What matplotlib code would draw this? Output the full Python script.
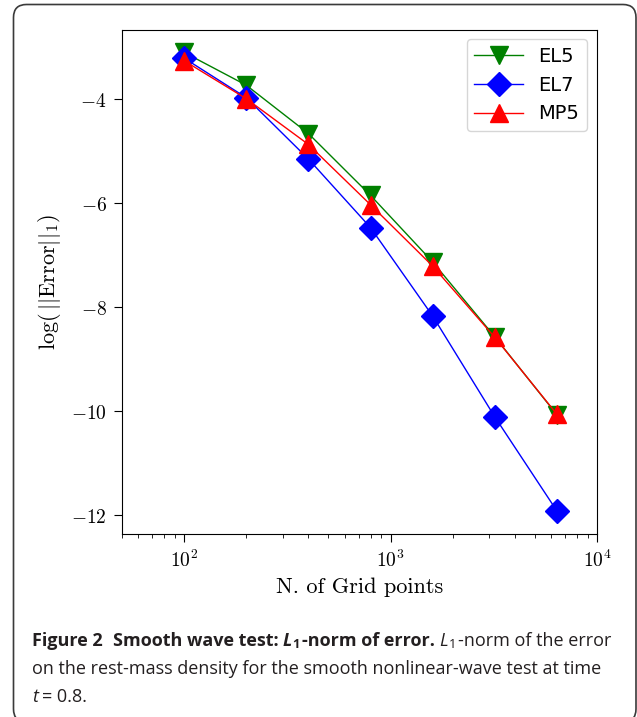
import math
import matplotlib
matplotlib.use("Agg")
import matplotlib.pyplot as plt
from matplotlib.patches import FancyBboxPatch
from matplotlib.ticker import FixedLocator, FuncFormatter, LogLocator

# ---- data ----
grid_points = [100, 200, 400, 800, 1600, 3200, 6400]
el5 = [-3.10, -3.73, -4.66, -5.85, -7.13, -8.57, -10.07]
el7 = [-3.21, -3.97, -5.15, -6.47, -8.17, -10.11, -11.92]
mp5 = [-3.26, -3.99, -4.87, -6.03, -7.21, -8.58, -10.06]
series_names = ["EL5", "EL7", "MP5"]
y_ticks = [-12, -10, -8, -6, -4]
x_label = "N. of Grid points"
y_label = r"$\log(\,||\mathrm{Error}||_1)$"

plt.rcParams["mathtext.fontset"] = "cm"

W, H = 637, 717
fig = plt.figure(figsize=(W / 100, H / 100), dpi=100)

# overlay in pixel coordinates for the caption frame and text
ov = fig.add_axes([0, 0, 1, 1], zorder=0)
ov.set_xlim(0, W)
ov.set_ylim(H, 0)
ov.axis("off")
ov.add_patch(FancyBboxPatch((13.5, 4.5), 636 - 13.5, 722 - 4.5,
                            boxstyle="round,pad=0,rounding_size=13",
                            fc="white", ec="#3a3a3a", lw=1.2, clip_on=False))

ax = fig.add_axes([122 / W, 1 - 534 / H, (597 - 122) / W, (534 - 29.5) / H], zorder=2)
ms = 13.5
ax.plot(grid_points, el5, color="g", marker="v", ms=ms, lw=1.0, label=series_names[0])
ax.plot(grid_points, el7, color="b", marker="D", ms=ms * 0.92, lw=1.0, label=series_names[1])
ax.plot(grid_points, mp5, color="r", marker="^", ms=ms, lw=1.0, label=series_names[2])
ax.set_xscale("log")
ax.set_xlim(50, 10000)
ax.yaxis.set_major_locator(FixedLocator(y_ticks))
ax.yaxis.set_major_formatter(FuncFormatter(lambda v, p: r"$%d$" % v))
ax.xaxis.set_major_locator(LogLocator(base=10))
ax.xaxis.set_major_formatter(FuncFormatter(lambda v, p: r"$10^{%d}$" % round(math.log10(v))))
ax.tick_params(which="major", labelsize=14, length=6, pad=5)
ax.tick_params(which="minor", length=3)
ax.set_xlabel(x_label, fontsize=16, family="cmr10", labelpad=5)
ax.set_ylabel(y_label, fontsize=16)
ax.yaxis.set_label_coords(-0.124, 0.5)
ax.legend(loc="upper right", fontsize=14, handlelength=2.5, borderaxespad=0.5)

# caption
fig.canvas.draw()
renderer = fig.canvas.get_renderer()
cap_font = "Open Sans"
fsb = 13.0
fs = 13.0
col = "#231f20"


def draw_pieces(x, y, pieces):
    for s, kw, dy, gap in pieces:
        t = ov.text(x, y + dy, s, va="baseline", ha="left", family=cap_font,
                    color=col, **kw)
        bb = t.get_window_extent(renderer)
        x += bb.width + gap
    return x


B = dict(fontsize=fsb, fontweight="bold")
R = dict(fontsize=fs)
Sb = dict(fontsize=fsb * 0.7, fontweight="bold")
Sr = dict(fontsize=fs * 0.7)
draw_pieces(32, 646, [
    ("Figure 2", B, 0, 10),
    ("Smooth wave test:", B, 0, 4),
    ("L", dict(B, style="italic"), 0, 0.5),
    ("1", Sb, 2.5, 2),
    ("-norm of error.", B, 0, 5),
    ("L", dict(R, style="italic"), 0, 0.5),
    ("1", Sr, 2.5, 2),
    ("-norm of the error", R, 0, 0),
])
draw_pieces(32, 674, [
    ("on the rest-mass density for the smooth nonlinear-wave test at time", R, 0, 0),
])
draw_pieces(32, 702, [
    ("t", dict(R, style="italic"), 0, 4),
    ("= 0.8.", R, 0, 0),
])

fig.savefig("out.png", dpi=100)
